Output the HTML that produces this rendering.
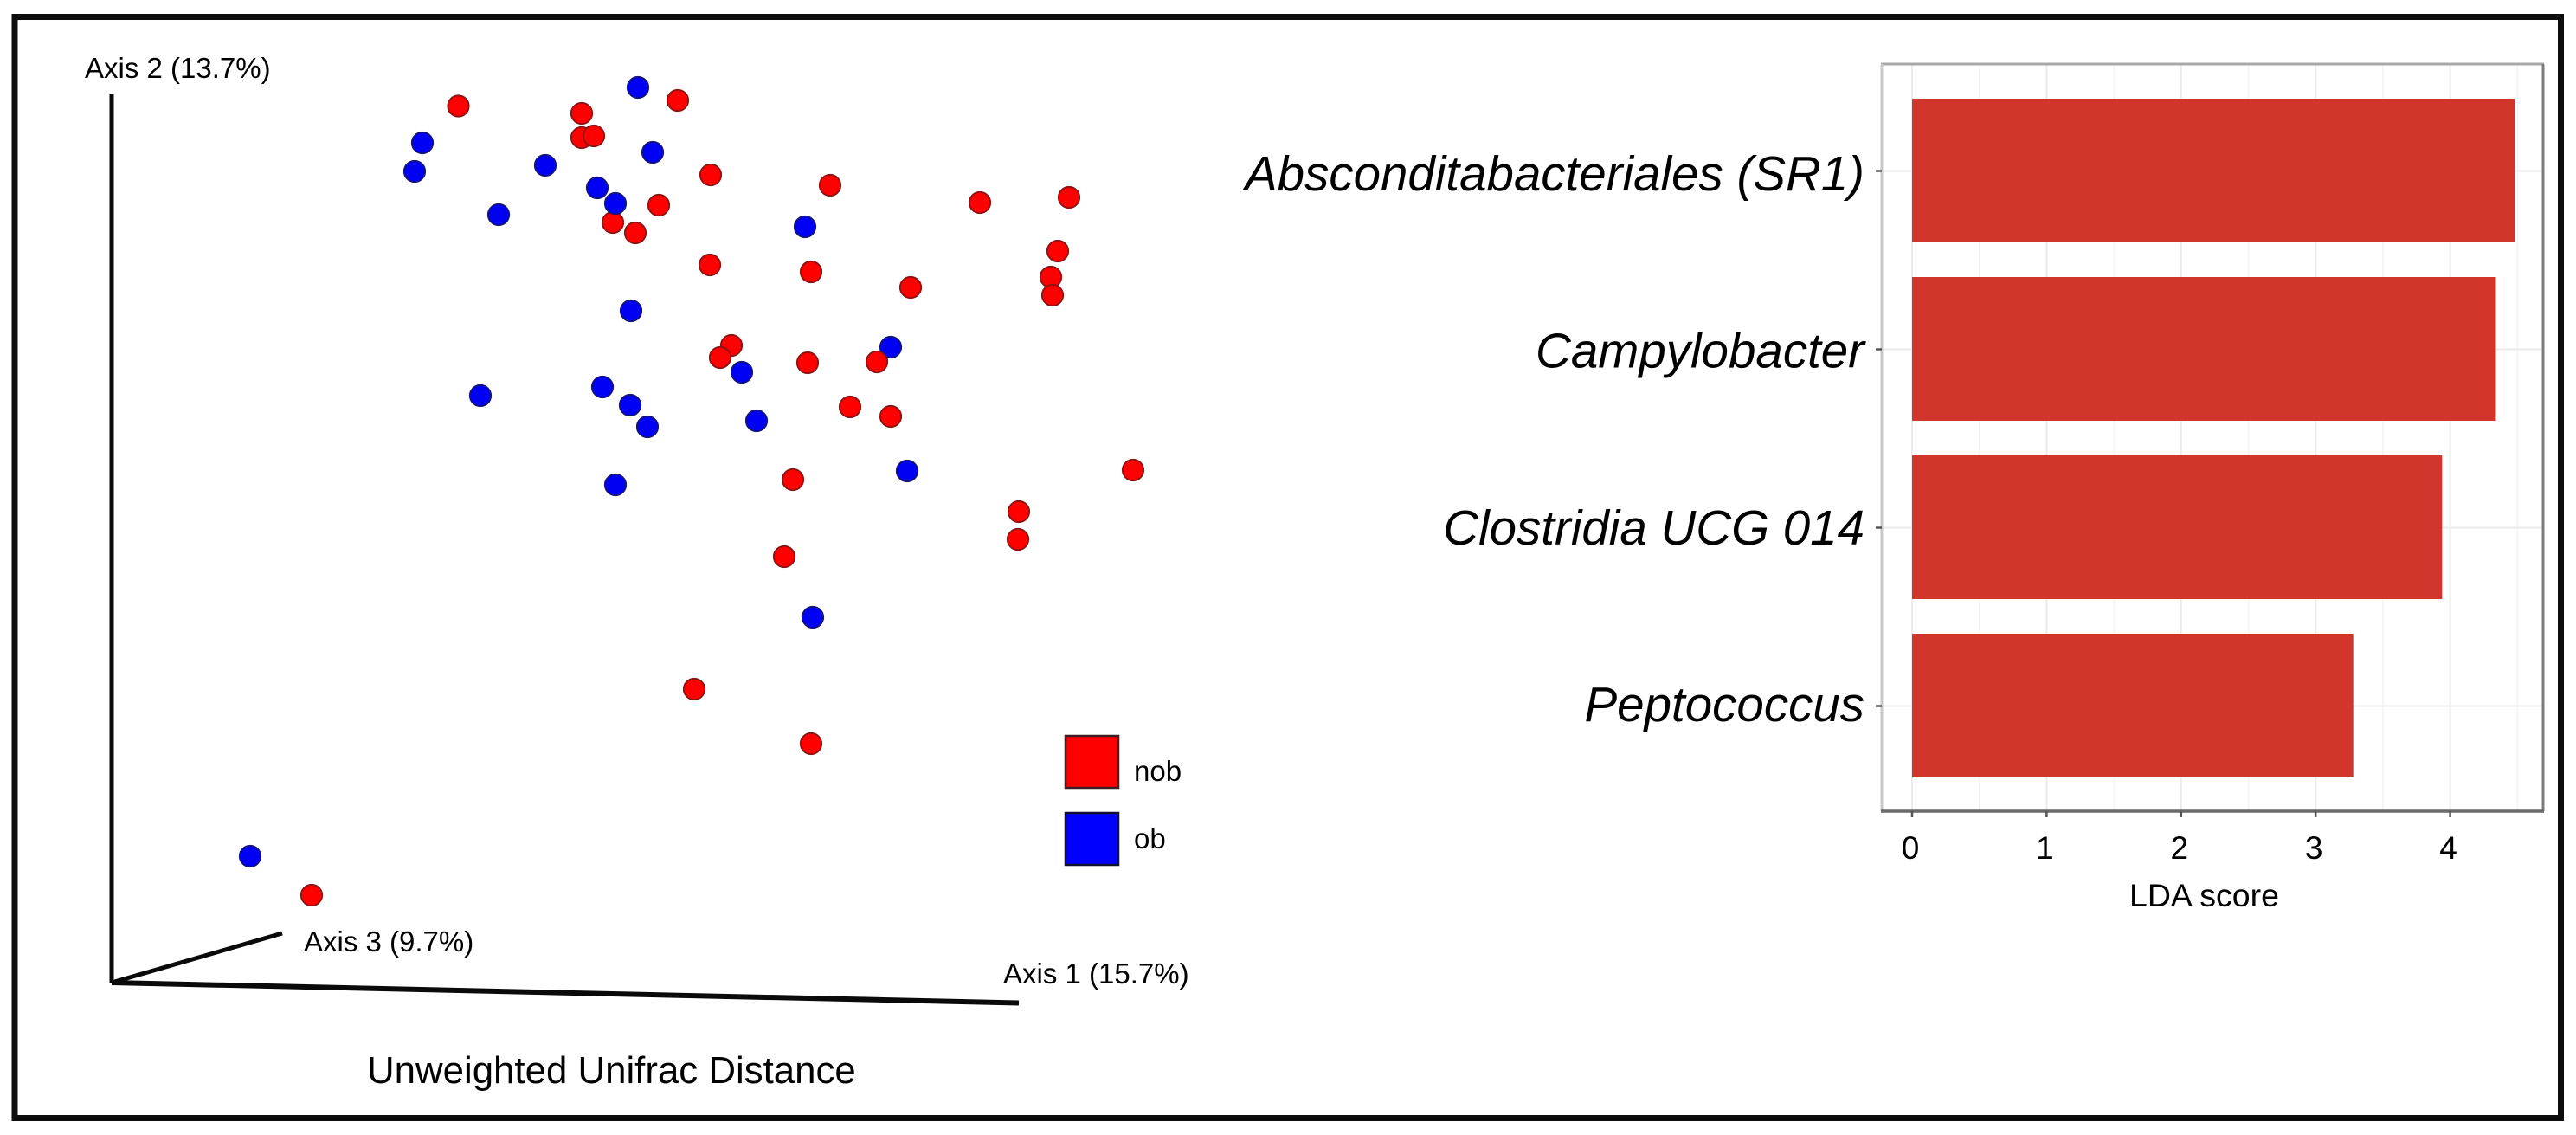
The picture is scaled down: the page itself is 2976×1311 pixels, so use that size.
<!DOCTYPE html>
<html lang="en">
<head>
<meta charset="utf-8">
<title>Unweighted Unifrac PCoA and LDA scores</title>
<style>
html,body{margin:0;padding:0;background:#fff;width:2976px;height:1311px;overflow:hidden}
svg{display:block}
text{font-family:"Liberation Sans",sans-serif;fill:#000}
</style>
</head>
<body>
<svg id="fig" xmlns="http://www.w3.org/2000/svg" width="2976" height="1311" viewBox="0 0 2976 1311">
  <rect width="2976" height="1311" fill="#fff"/>
  <rect x="17" y="19.5" width="2941.5" height="1272" fill="none" stroke="#0d0d0d" stroke-width="7"/>

  <g id="pcoa">
    <line x1="129" y1="109" x2="129" y2="1135" stroke="#0a0a0a" stroke-width="5"/>
    <line x1="129" y1="1135" x2="1177" y2="1158.5" stroke="#0a0a0a" stroke-width="6"/>
    <line x1="129" y1="1135" x2="326" y2="1078" stroke="#0a0a0a" stroke-width="5"/>
    <text x="98" y="90" font-size="33">Axis 2 (13.7%)</text>
    <text x="351" y="1099" font-size="33">Axis 3 (9.7%)</text>
    <text x="1159" y="1136" font-size="33">Axis 1 (15.7%)</text>
    <text x="424" y="1251" font-size="43.8">Unweighted Unifrac Distance</text>
    <g id="dots"></g>
    <g>
      <rect x="1231" y="850" width="61" height="60" fill="#ff0000" stroke="#3a2020" stroke-width="2.5"/>
      <text x="1310" y="902" font-size="33">nob</text>
      <rect x="1231" y="939" width="61" height="60" fill="#0000ff" stroke="#101030" stroke-width="2.5"/>
      <text x="1310" y="980" font-size="33">ob</text>
    </g>
  </g>

  <g id="lda"></g>
</svg>

<script>
// PCoA sample scores, in drawing order
const sampleGroups = [
  'ob','ob','ob','ob','ob','ob','ob','ob','ob','ob','ob','ob','ob','ob','ob','ob','ob','ob','ob',
  'nob','nob','nob','nob','nob','nob','nob','nob','nob','nob','nob','nob','nob','nob','nob','nob',
  'nob','nob','nob','nob','nob','nob','nob','nob','nob','nob','nob','nob','nob','nob','nob','nob',
  'ob','ob'
];
const axis1Scores = [
  60.8,35.9,35.0,50.1,62.5,44.7,80.1,60.0,90.0,72.8,42.6,56.7,59.9,61.9,74.5,58.2,91.9,81.0,16.0,
  40.05,54.3,65.4,54.3,55.7,69.2,83.0,100.3,110.6,63.2,57.9,60.5,69.1,80.8,92.3,109.3,
  108.5,108.7,71.6,70.3,80.4,88.4,85.3,90.0,78.7,118.0,104.8,104.7,77.7,67.3,80.8,23.1,
  56.1,58.2
];
const axis2Scores = [
  103.4,97.0,93.7,94.4,95.9,88.7,87.3,77.6,73.4,70.5,67.8,68.8,66.7,64.2,64.9,57.5,59.1,42.2,14.6,
  101.25,100.4,101.9,97.6,97.8,93.3,92.1,90.1,90.7,89.8,87.8,86.6,82.9,82.1,80.3,84.5,
  81.5,79.4,73.6,72.2,71.6,71.7,66.5,65.4,58.1,59.2,54.4,51.2,49.2,33.9,27.6,10.1,
  91.8,90.0
];

// LDA bar chart
const taxa = ['Absconditabacteriales (SR1)','Campylobacter','Clostridia UCG 014','Peptococcus'];
const ldaScores = [4.48,4.34,3.94,3.28];
const ldaTicks = [0,1,2,3,4];
const ldaMinorTicks = [0.5,1.5,2.5,3.5,4.5];

const NS = 'http://www.w3.org/2000/svg';
function make(parent, tag, attrs, txt){
  const el = document.createElementNS(NS, tag);
  for (const k in attrs) el.setAttribute(k, attrs[k]);
  if (txt !== undefined) el.textContent = txt;
  parent.appendChild(el);
  return el;
}

// PCoA projection functions
const pcoaX = v => 129 + v * 10;
const pcoaY = v => 1135 - v * 10;
const groupFill = {nob:'#ff0000', ob:'#0000f5'};
const groupEdge = {nob:'#8a1414', ob:'#14147a'};
const dots = document.getElementById('dots');
sampleGroups.forEach((g, i) => {
  const c = make(dots, 'circle', {cx:pcoaX(axis1Scores[i]), cy:pcoaY(axis2Scores[i]), r:12.2, fill:groupFill[g], stroke:groupEdge[g], 'stroke-width':1.8});
  
  
});

// LDA axes
const lda = document.getElementById('lda');
const panel = {left:2174, right:2938, top:74, bottom:937};
const ldaX = v => 2209 + v * 155.4;
const bandY = i => 197.5 + i * 206;
const labelY = i => 220 + i * 204.4;
const barH = 166;

ldaMinorTicks.forEach(t => {
  const l = make(lda, 'line', {x1:ldaX(t), x2:ldaX(t), y1:panel.top, y2:panel.bottom, stroke:'#f3f3f3', 'stroke-width':1.5});
  
  
});
ldaTicks.forEach(t => {
  const l = make(lda, 'line', {x1:ldaX(t), x2:ldaX(t), y1:panel.top, y2:panel.bottom, stroke:'#ebebeb', 'stroke-width':2});
  
  
});
taxa.forEach((t, i) => {
  const l = make(lda, 'line', {x1:panel.left, x2:panel.right, y1:bandY(i), y2:bandY(i), stroke:'#ebebeb', 'stroke-width':2});
  
  
});
ldaScores.forEach((v, i) => {
  const b = make(lda, 'rect', {x:ldaX(0), y:bandY(i) - barH / 2 - 0.5, width:ldaX(v) - ldaX(0), height:barH, fill:'#d1352b'});
  
  
});

const frameTop = make(lda, 'line', {x1:panel.left - 1, x2:panel.right + 1, y1:panel.top, y2:panel.top, stroke:'#a8a8a8', 'stroke-width':3});


const frameLeft = make(lda, 'line', {x1:panel.left, x2:panel.left, y1:panel.top, y2:panel.bottom, stroke:'#c8c8c8', 'stroke-width':3});


const frameRight = make(lda, 'line', {x1:panel.right, x2:panel.right, y1:panel.top, y2:panel.bottom, stroke:'#7d7d7d', 'stroke-width':3});


const frameBottom = make(lda, 'line', {x1:panel.left - 1, x2:panel.right + 1, y1:panel.bottom, y2:panel.bottom, stroke:'#6a6a6a', 'stroke-width':3.5});



ldaTicks.forEach(t => {
  const m = make(lda, 'line', {x1:ldaX(t), x2:ldaX(t), y1:panel.bottom, y2:panel.bottom + 7, stroke:'#555', 'stroke-width':2.5});
  
  
  const s = make(lda, 'text', {x:ldaX(t) - 2, y:992, 'font-size':37, 'text-anchor':'middle'}, String(t));
  
  
});
taxa.forEach((t, i) => {
  const m = make(lda, 'line', {x1:panel.left - 7, x2:panel.left, y1:bandY(i), y2:bandY(i), stroke:'#555', 'stroke-width':2.5});
  
  
  const s = make(lda, 'text', {x:2154, y:labelY(i), 'font-size':56.5, 'font-style':'italic', 'text-anchor':'end'}, t);
  
  
});
const ldaTitle = make(lda, 'text', {x:2546.5, y:1047, 'font-size':37.5, 'text-anchor':'middle'}, 'LDA score');


</script>
</body>
</html>
